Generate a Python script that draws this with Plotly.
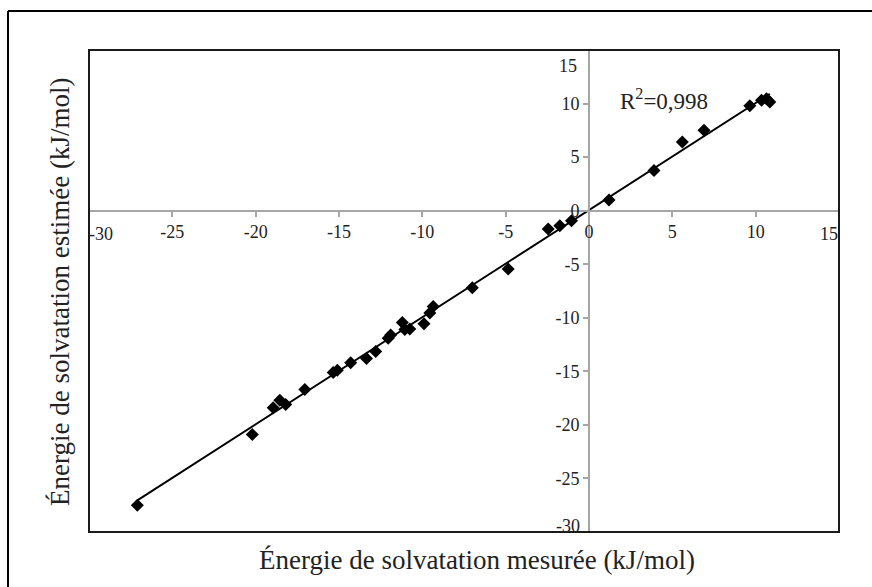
import numpy as np
import plotly.graph_objects as go

# Measured vs. estimated solvation energies (kJ/mol)
measured = [-27.1, -20.2, -18.95, -18.55, -18.2, -17.05, -15.35, -15.1, -14.3,
            -13.35, -12.8, -12.05, -11.9, -11.2, -11.05, -10.75, -9.9, -9.55,
            -9.35, -7.0, -4.85, -2.45, -1.75, -1.05, 1.2, 3.9, 5.6, 6.9, 9.65,
            10.35, 10.65, 10.85]
estimated = [-27.5, -20.9, -18.4, -17.7, -18.1, -16.7, -15.1, -14.9, -14.2,
             -13.8, -13.15, -11.9, -11.6, -10.45, -11.1, -11.05, -10.55, -9.55,
             -8.95, -7.2, -5.45, -1.7, -1.4, -0.95, 1.0, 3.75, 6.4, 7.5, 9.8,
             10.3, 10.45, 10.15]
r2_label = "R<sup>2</sup>=0,998"

tick_vals = [-30, -25, -20, -15, -10, -5, 0, 5, 10, 15]
tick_text = ["-30", "-25", "-20", "-15", "-10", "-5", "0", "5", "10", "15"]
axis_range = [-30, 15]

FONT = "Liberation Serif, Times New Roman, serif"
TICK_SIZE = 18
W, H = 872, 587
ML, MR, MT, MB = 89, 33, 50, 55
PW, PH = W - ML - MR, H - MT - MB

# Linear trend line through the points
slope, intercept = np.polyfit(measured, estimated, 1)
fit_x = np.array([min(measured), max(measured)])
fit_y = slope * fit_x + intercept

fig = go.Figure()
fig.add_trace(go.Scatter(x=fit_x, y=fit_y, mode="lines",
                         line=dict(color="black", width=2),
                         hoverinfo="skip", showlegend=False))
fig.add_trace(go.Scatter(x=measured, y=estimated, mode="markers",
                         marker=dict(symbol="diamond", size=10, color="black"),
                         showlegend=False))

zero_frac = (0 - axis_range[0]) / (axis_range[1] - axis_range[0])

# end labels are pulled inside the frame, so the axes draw only the inner ones
inner_text = [t if i not in (0, len(tick_text) - 1) else ""
              for i, t in enumerate(tick_text)]

axis_common = dict(
    range=axis_range, tickmode="array", tickvals=tick_vals, ticktext=inner_text,
    showgrid=False, zeroline=False, showline=True, linecolor="#a6a6a6",
    linewidth=2, ticks="outside", ticklen=5, tickwidth=1.5, tickcolor="#a6a6a6",
    tickfont=dict(family=FONT, size=TICK_SIZE, color="#222"), anchor="free",
    position=zero_frac, fixedrange=True,
)
fig.update_xaxes(ticklabelstandoff=0, **axis_common)
fig.update_yaxes(**axis_common)


def px_to_paper_x(px):
    return (px - ML) / PW


def px_to_paper_y(py):
    return (H - MB - py) / PH


tick_font = dict(family=FONT, size=TICK_SIZE, color="#222")
end_labels = [
    # x axis ends
    dict(text=tick_text[0], x=tick_vals[0], y=0, xanchor="left", yanchor="top",
         xshift=-2, yshift=-11),
    dict(text=tick_text[-1], x=tick_vals[-1], y=0, xanchor="right",
         yanchor="top", xshift=1, yshift=-11),
    # y axis ends
    dict(text=tick_text[0], x=0, y=tick_vals[0], xanchor="right",
         yanchor="bottom", xshift=-7, yshift=-6),
    dict(text=tick_text[-1], x=0, y=tick_vals[-1], xanchor="right",
         yanchor="top", xshift=-10, yshift=-4),
]
for lab in end_labels:
    lab.update(xref="x", yref="y", showarrow=False, font=tick_font)

fig.update_layout(
    width=W, height=H,
    margin=dict(l=ML, r=MR, t=MT, b=MB),
    paper_bgcolor="white", plot_bgcolor="white",
    font=dict(family=FONT, color="#222"),
    shapes=[
        # plot frame
        dict(type="rect", xref="paper", yref="paper", x0=0, x1=1, y0=0, y1=1,
             line=dict(color="#1a1a1a", width=2)),
        # outer border (top and left edges)
        dict(type="line", xref="paper", yref="paper",
             x0=px_to_paper_x(8), x1=px_to_paper_x(W + 200),
             y0=px_to_paper_y(11), y1=px_to_paper_y(11),
             line=dict(color="black", width=2)),
        dict(type="line", xref="paper", yref="paper",
             x0=px_to_paper_x(8), x1=px_to_paper_x(8),
             y0=px_to_paper_y(11), y1=px_to_paper_y(H + 200),
             line=dict(color="black", width=2)),
    ],
    annotations=[
        dict(text="Énergie de solvatation mesurée (kJ/mol)", xref="paper",
             yref="paper", x=px_to_paper_x(477), y=px_to_paper_y(560),
             xanchor="center", yanchor="middle", showarrow=False,
             font=dict(family=FONT, size=27, color="#222")),
        dict(text="Énergie de solvatation estimée (kJ/mol)", xref="paper",
             yref="paper", x=px_to_paper_x(60), y=px_to_paper_y(292),
             xanchor="center", yanchor="middle", showarrow=False,
             textangle=-90, font=dict(family=FONT, size=27, color="#222")),
        dict(text=r2_label, xref="x", yref="y", x=4.5, y=10.4,
             xanchor="center", yanchor="middle", showarrow=False,
             font=dict(family=FONT, size=23, color="#222")),
    ] + end_labels,
)

fig.write_html("out.html")
